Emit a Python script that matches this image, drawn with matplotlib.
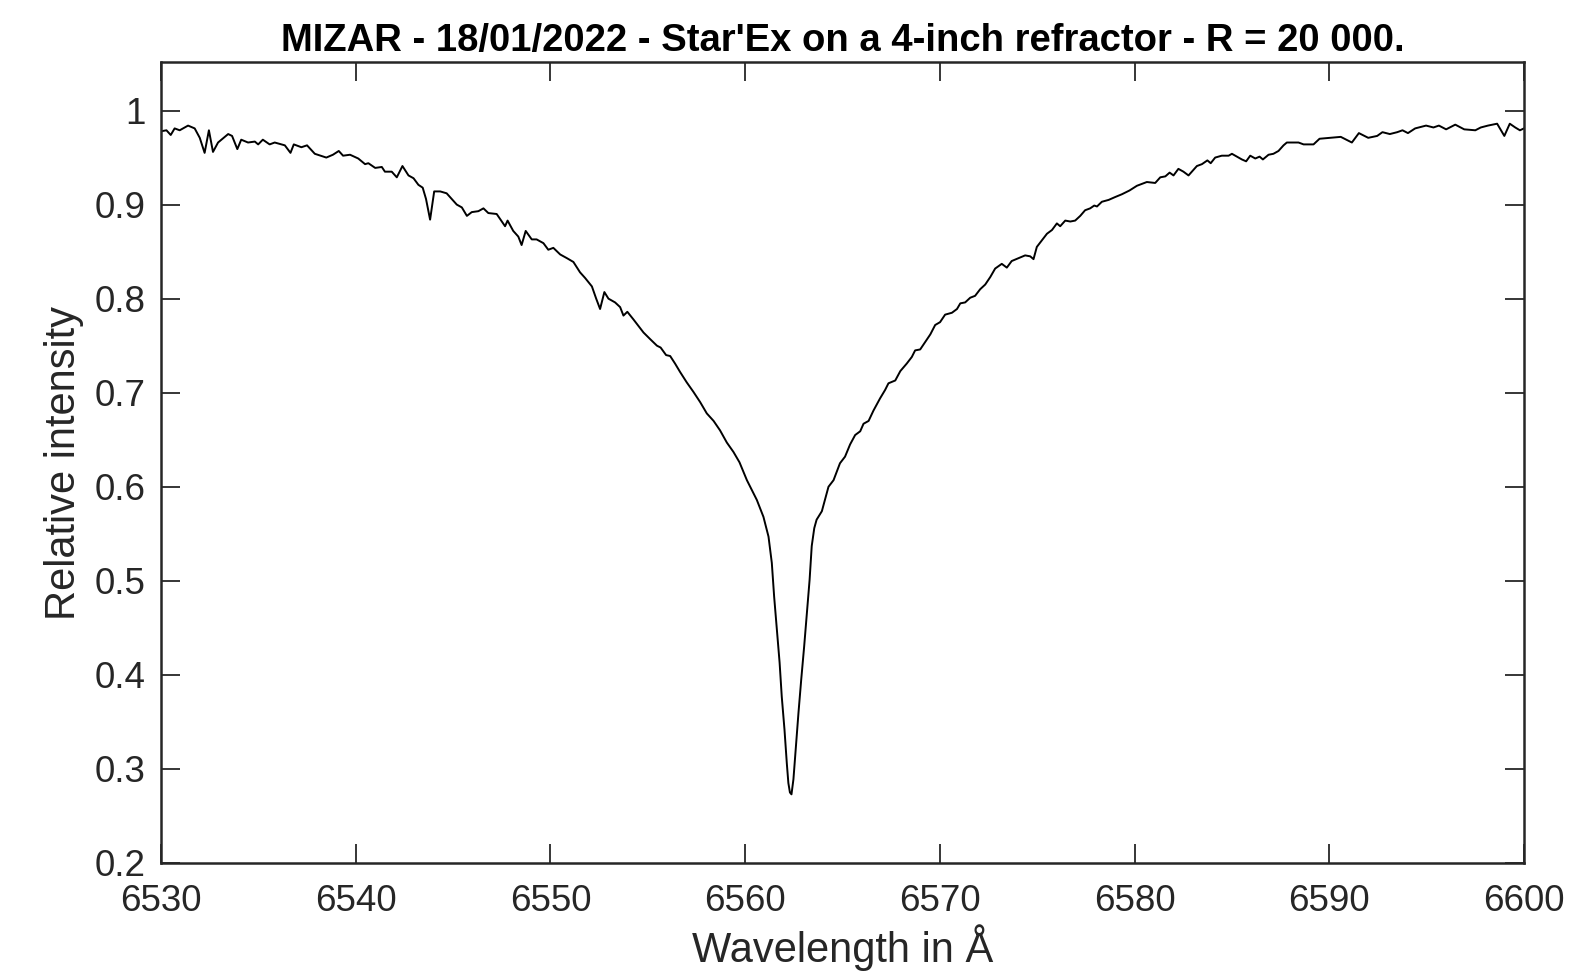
import matplotlib
matplotlib.use('Agg')
import matplotlib.pyplot as plt

# Spectrum (wavelength in Angstrom, relative intensity)
wavelength = [
    6530.02, 6530.28, 6530.50, 6530.70, 6530.96, 6531.39, 6531.73, 6531.99, 6532.24, 6532.46,
    6532.67, 6532.93, 6533.45, 6533.65, 6533.92, 6534.12, 6534.47, 6534.82, 6534.99, 6535.23,
    6535.58, 6535.84, 6536.36, 6536.65, 6536.82, 6537.21, 6537.50, 6537.90, 6538.49, 6538.83,
    6539.13, 6539.35, 6539.71, 6540.13, 6540.48, 6540.65, 6541.00, 6541.34, 6541.50, 6541.85,
    6542.11, 6542.40, 6542.71, 6542.97, 6543.22, 6543.44, 6543.61, 6543.82, 6544.03, 6544.34,
    6544.67, 6544.93, 6545.19, 6545.45, 6545.71, 6545.96, 6546.30, 6546.56, 6546.81, 6547.24,
    6547.67, 6547.80, 6548.09, 6548.35, 6548.52, 6548.73, 6549.04, 6549.29, 6549.64, 6549.89,
    6550.15, 6550.50, 6550.85, 6551.18, 6551.52, 6551.78, 6552.13, 6552.35, 6552.55, 6552.77,
    6552.98, 6553.32, 6553.58, 6553.75, 6553.95, 6554.26, 6554.52, 6554.78, 6555.12, 6555.47,
    6555.66, 6555.94, 6556.15, 6556.40, 6556.66, 6557.00, 6557.34, 6557.69, 6558.03, 6558.38,
    6558.71, 6559.06, 6559.40, 6559.71, 6560.09, 6560.60, 6560.94, 6561.20, 6561.37, 6561.49,
    6561.63, 6561.77, 6561.88, 6562.02, 6562.14, 6562.22, 6562.30, 6562.38, 6562.48, 6562.61,
    6562.74, 6562.88, 6563.03, 6563.17, 6563.31, 6563.42, 6563.55, 6563.67, 6563.94, 6564.28,
    6564.54, 6564.87, 6565.13, 6565.39, 6565.65, 6565.91, 6566.08, 6566.34, 6566.59, 6566.93,
    6567.19, 6567.36, 6567.71, 6567.97, 6568.30, 6568.56, 6568.73, 6568.99, 6569.25, 6569.51,
    6569.76, 6570.01, 6570.27, 6570.62, 6570.88, 6571.05, 6571.30, 6571.56, 6571.81, 6572.07,
    6572.33, 6572.59, 6572.84, 6573.18, 6573.44, 6573.69, 6574.04, 6574.38, 6574.64, 6574.81,
    6574.98, 6575.24, 6575.50, 6575.76, 6576.01, 6576.18, 6576.44, 6576.70, 6576.95, 6577.21,
    6577.46, 6577.72, 6577.93, 6578.07, 6578.32, 6578.67, 6579.00, 6579.35, 6579.74, 6580.12,
    6580.63, 6581.06, 6581.32, 6581.58, 6581.80, 6582.00, 6582.25, 6582.51, 6582.77, 6582.94,
    6583.20, 6583.46, 6583.74, 6583.91, 6584.14, 6584.48, 6584.83, 6585.00, 6585.25, 6585.51,
    6585.73, 6585.94, 6586.20, 6586.42, 6586.59, 6586.88, 6587.13, 6587.39, 6587.65, 6587.82,
    6588.17, 6588.42, 6588.68, 6588.93, 6589.19, 6589.50, 6590.59, 6591.16, 6591.52, 6592.00,
    6592.46, 6592.73, 6593.11, 6593.49, 6593.76, 6594.04, 6594.41, 6594.97, 6595.35, 6595.63,
    6596.00, 6596.47, 6596.93, 6597.50, 6597.78, 6598.15, 6598.62, 6598.99, 6599.27, 6599.55,
    6599.79, 6600.00,
]
intensity = [
    0.978, 0.979, 0.974, 0.981, 0.979, 0.984, 0.981, 0.971, 0.955, 0.979,
    0.956, 0.966, 0.975, 0.973, 0.959, 0.969, 0.966, 0.967, 0.964, 0.969,
    0.964, 0.966, 0.963, 0.955, 0.964, 0.961, 0.963, 0.954, 0.950, 0.953,
    0.957, 0.952, 0.953, 0.949, 0.943, 0.944, 0.939, 0.940, 0.935, 0.935,
    0.929, 0.941, 0.931, 0.928, 0.921, 0.918, 0.906, 0.884, 0.914, 0.914,
    0.912, 0.906, 0.900, 0.897, 0.888, 0.892, 0.893, 0.896, 0.891, 0.890,
    0.877, 0.883, 0.872, 0.866, 0.857, 0.872, 0.863, 0.863, 0.859, 0.852,
    0.854, 0.847, 0.843, 0.839, 0.828, 0.822, 0.813, 0.800, 0.789, 0.807,
    0.800, 0.796, 0.791, 0.782, 0.786, 0.778, 0.771, 0.764, 0.757, 0.750,
    0.748, 0.740, 0.739, 0.731, 0.722, 0.711, 0.701, 0.690, 0.678, 0.670,
    0.660, 0.647, 0.637, 0.626, 0.607, 0.586, 0.568, 0.547, 0.519, 0.483,
    0.448, 0.413, 0.377, 0.342, 0.306, 0.285, 0.275, 0.273, 0.289, 0.324,
    0.360, 0.395, 0.430, 0.466, 0.501, 0.537, 0.556, 0.565, 0.574, 0.600,
    0.607, 0.625, 0.632, 0.645, 0.655, 0.659, 0.667, 0.670, 0.681, 0.694,
    0.703, 0.710, 0.713, 0.723, 0.731, 0.738, 0.745, 0.746, 0.754, 0.762,
    0.772, 0.775, 0.783, 0.785, 0.789, 0.795, 0.796, 0.801, 0.803, 0.810,
    0.815, 0.823, 0.832, 0.837, 0.833, 0.840, 0.843, 0.846, 0.845, 0.842,
    0.855, 0.862, 0.869, 0.873, 0.880, 0.877, 0.883, 0.882, 0.883, 0.888,
    0.894, 0.896, 0.899, 0.898, 0.903, 0.905, 0.908, 0.911, 0.915, 0.920,
    0.924, 0.923, 0.929, 0.930, 0.934, 0.931, 0.938, 0.935, 0.931, 0.935,
    0.941, 0.943, 0.947, 0.944, 0.950, 0.952, 0.952, 0.954, 0.951, 0.948,
    0.946, 0.952, 0.949, 0.951, 0.948, 0.953, 0.954, 0.957, 0.963, 0.966,
    0.966, 0.966, 0.964, 0.964, 0.964, 0.970, 0.972, 0.966, 0.976, 0.971,
    0.973, 0.977, 0.975, 0.977, 0.979, 0.976, 0.981, 0.984, 0.982, 0.984,
    0.980, 0.985, 0.980, 0.979, 0.982, 0.984, 0.986, 0.973, 0.986, 0.982,
    0.979, 0.981,
]

x_ticks = [6530, 6540, 6550, 6560, 6570, 6580, 6590, 6600]
y_ticks = [0.2, 0.3, 0.4, 0.5, 0.6, 0.7, 0.8, 0.9, 1.0]
y_tick_labels = ['0.2', '0.3', '0.4', '0.5', '0.6', '0.7', '0.8', '0.9', '1']

TITLE = "MIZAR - 18/01/2022 - Star'Ex on a 4-inch refractor - R = 20 000."
AXIS_COLOR = '#262626'
W, H = 1578, 974

plt.rcParams['font.family'] = ['Liberation Sans', 'DejaVu Sans']

fig = plt.figure(figsize=(W / 100, H / 100), dpi=100)
# axes frame in pixels: left 161, right 1524, top 62, bottom 863
ax = fig.add_axes([161 / W, (H - 863) / H, 1363 / W, 801 / H])

ax.plot(wavelength, intensity, color='black', linewidth=1.4)

ax.set_xlim(6530, 6600)
ax.set_ylim(0.2, 1.0516)
ax.set_xticks(x_ticks)
ax.set_yticks(y_ticks)
ax.set_yticklabels(y_tick_labels)

ax.tick_params(direction='in', length=14, width=1.3, colors=AXIS_COLOR,
               labelsize=26.5, top=True, right=True)
ax.tick_params(axis='x', pad=15)
ax.tick_params(axis='y', pad=11)
for spine in ax.spines.values():
    spine.set_linewidth(1.8)
    spine.set_color(AXIS_COLOR)

ax.set_xlabel('Wavelength in Å', fontsize=30, color=AXIS_COLOR, labelpad=4)
ax.set_ylabel('Relative intensity', fontsize=30, color=AXIS_COLOR, labelpad=8)
ax.set_title(TITLE, fontsize=27.5, fontweight='bold', color='black', pad=8)

fig.savefig('out.png', dpi=100, facecolor='white')
plt.close(fig)
